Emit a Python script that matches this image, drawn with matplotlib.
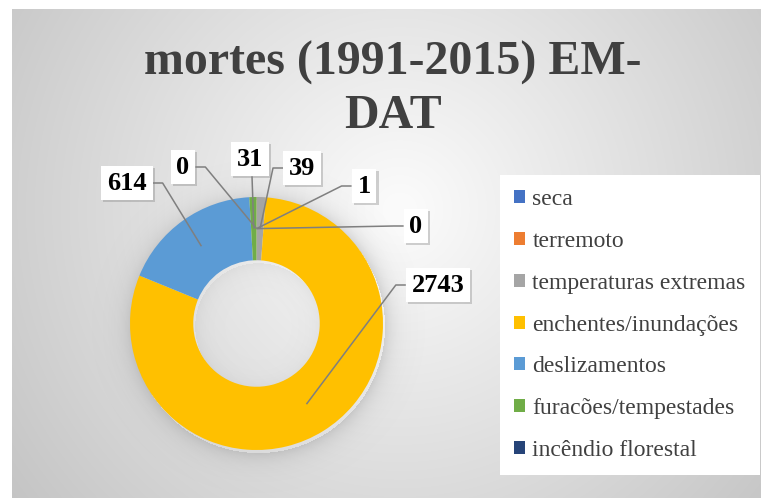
import numpy as np
import matplotlib
matplotlib.use('Agg')
import matplotlib.pyplot as plt
import matplotlib.patheffects as pe

# dados
categorias = ['seca', 'terremoto', 'temperaturas extremas', 'enchentes/inundações',
              'deslizamentos', 'furacões/tempestades', 'incêndio florestal']
mortes = [0, 1, 39, 2743, 614, 31, 0]
cores = ['#4472C4', '#ED7D31', '#A5A5A5', '#FFC000', '#5B9BD5', '#70AD47', '#264478']
titulo = 'mortes (1991-2015) EM-\nDAT'

W, H = 761, 498
plt.rcParams['font.family'] = ['Liberation Serif', 'DejaVu Serif']

fig = plt.figure(figsize=(W / 100, H / 100), dpi=100)
fig.patch.set_facecolor('white')
ax = fig.add_axes([0, 0, 1, 1])


def Y(y):
    return H - y

# fundo com gradiente radial (area do grafico)
x0, x1, y0, y1 = 12, W, 9, H
xx, yy = np.meshgrid(np.arange(x0, x1) + 0.5, np.arange(y0, y1) + 0.5)
d = np.hypot(xx - 400, yy - 210)
g = np.clip(252 - 0.115 * d, 190, 250) / 255
bg = np.dstack([g, g, g])
ax.imshow(bg, extent=(x0, x1, Y(y1), Y(y0)), origin='upper', zorder=0, interpolation='bilinear')

# sombra da rosca
cx, cy, R = 256.5, 323.5, 126.5
r_in = R * 0.5
sx, sy = np.meshgrid(np.arange(cx - 170, cx + 170), np.arange(cy - 170, cy + 170))
rr = np.hypot(sx - cx - 1, sy - cy - 3)
a = np.zeros_like(rr)
out = rr > R
a[out] = 0.22 * np.exp(-(rr[out] - R) / 10)
inn = rr < r_in
a[inn] = 0.08 * np.exp(-(r_in - rr[inn]) / 10)
sh = np.zeros(rr.shape + (4,))
sh[..., :3] = 0.4
sh[..., 3] = a
ax.imshow(sh, extent=(cx - 170, cx + 170, Y(cy + 170), Y(cy - 170)), origin='upper',
          zorder=1, interpolation='bilinear')

wedges, _ = ax.pie(mortes, colors=cores, startangle=90, counterclock=False,
                   radius=R, center=(cx, Y(cy)),
                   wedgeprops=dict(width=R - r_in, edgecolor='none'))
for w in wedges:
    w.set_zorder(2)

ax.set_xlim(0, W)
ax.set_ylim(0, H)
ax.set_aspect('auto')
ax.axis('off')

# titulo
ax.text(393, Y(89), titulo, ha='center', va='center', fontsize=34.5, fontweight='bold',
        color='#404040', linespacing=1.26, zorder=5)

# rotulos de dados
pos_rotulos = [(416, 226, 'left'), (364, 186, 'left'), (302, 168, 'left'), (438, 285, 'left'),
               (127, 183, 'right'), (250, 159, 'bottom'), (183, 167, 'right')]
r_mid = (R + r_in) / 2
fig.canvas.draw()
rend = fig.canvas.get_renderer()
for w, v, (lx, ly, lado) in zip(wedges, mortes, pos_rotulos):
    ang = np.deg2rad((w.theta1 + w.theta2) / 2)
    axp = cx + r_mid * np.cos(ang)
    ayp = Y(cy) + r_mid * np.sin(ang)
    t = ax.text(lx, Y(ly), str(v), ha='center', va='center', fontsize=19, fontweight='bold',
                color='black', zorder=6,
                bbox=dict(boxstyle='square,pad=0.22', facecolor='white', edgecolor='none'))
    t.get_bbox_patch().set_path_effects([
        pe.SimplePatchShadow(offset=(1.5, -1.5), shadow_rgbFace='#808080', alpha=0.35), pe.Normal()])
    t.draw(rend)
    bb = t.get_bbox_patch().get_window_extent(rend)
    if lado == 'left':
        ex, ey = bb.x0, Y(ly)
        xs, ys = [ex, ex - 10, axp], [ey, ey, ayp]
    elif lado == 'right':
        ex, ey = bb.x1, Y(ly)
        xs, ys = [ex, ex + 10, axp], [ey, ey, ayp]
    else:
        ex, ey = lx + 2, bb.y0
        xs, ys = [ex, axp], [ey, ayp]
    ax.plot(xs, ys, color='#7f7f7f', lw=1.1, zorder=4, solid_capstyle='butt')

# legenda
leg = ax.legend(wedges, categorias, loc='upper left',
                bbox_to_anchor=(500 / W, 1 - 175 / H), bbox_transform=fig.transFigure,
                fontsize=17, frameon=True, fancybox=False, framealpha=1,
                handlelength=0.47, handleheight=0.47, handletextpad=0.3,
                labelspacing=0.88, borderpad=0.6, borderaxespad=0)
leg.get_frame().set_facecolor('white')
leg.get_frame().set_edgecolor('none')
for txt in leg.get_texts():
    txt.set_color('#404040')
leg.set_zorder(6)

fig.savefig('out.png', dpi=100)
